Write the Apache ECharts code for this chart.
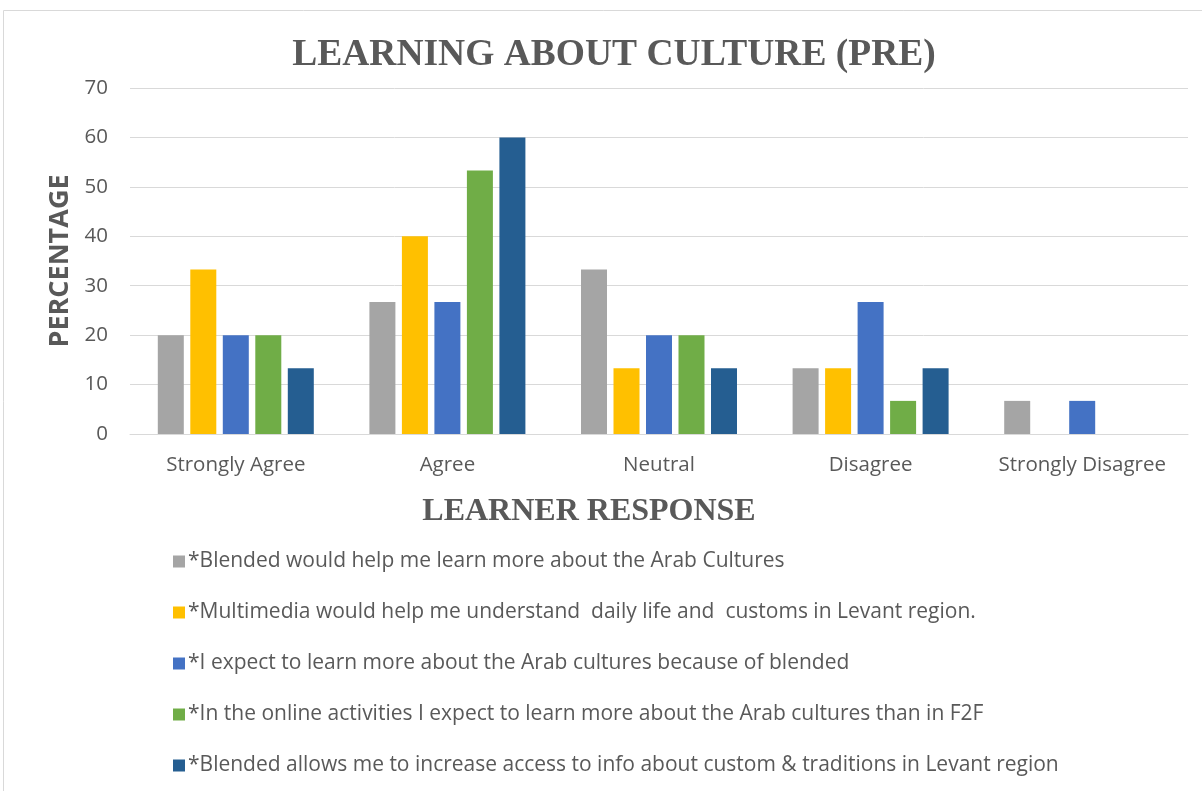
<!DOCTYPE html>
<html>
<head>
<meta charset="utf-8">
<script src="https://cdn.jsdelivr.net/npm/echarts@6/dist/echarts.min.js"></script>
<style>
  html, body { margin: 0; padding: 0; background: #fff; }
  #chart { width: 1202px; height: 791px; }
</style>
</head>
<body>
<div id="chart"></div>
<script>
  // categories and series
  const responses = ['Strongly Agree', 'Agree', 'Neutral', 'Disagree', 'Strongly Disagree']
  const yTicks = [0, 10, 20, 30, 40, 50, 60, 70]
  const blendedCultures = [20, 26.7, 33.3, 13.3, 6.7]
  const multimediaCustoms = [33.3, 40, 13.3, 13.3, 0]
  const expectBlended = [20, 26.7, 20, 26.7, 6.7]
  const onlineVsF2F = [20, 53.3, 20, 6.7, 0]
  const accessTraditions = [13.3, 60, 13.3, 13.3, 0]

  const seriesNames = [
    '*Blended would help me learn more about the Arab Cultures',
    '*Multimedia would help me understand  daily life and  customs in Levant region.',
    '*I expect to learn more about the Arab cultures because of blended',
    '*In the online activities I expect to learn more about the Arab cultures than in F2F',
    '*Blended allows me to increase access to info about custom & traditions in Levant region'
  ]
  const seriesData = [blendedCultures, multimediaCustoms, expectBlended, onlineVsF2F, accessTraditions]
  const colors = ['#A5A5A5', '#FFC000', '#4472C4', '#70AD47', '#255E91']

  const chart = echarts.init(document.getElementById('chart'))
  const option = {
    animation: false,
    color: colors,
    title: [
      {
        text: 'LEARNING ABOUT CULTURE (PRE)',
        left: 609, top: 31, textAlign: 'center',
        textStyle: { fontFamily: 'Liberation Serif', fontWeight: 'bold', fontSize: 37.5, color: '#595959' }
      },
      {
        text: 'LEARNER RESPONSE',
        left: 584, top: 491, textAlign: 'center',
        textStyle: { fontFamily: 'Liberation Serif', fontWeight: 'bold', fontSize: 32, color: '#595959' }
      }
    ],
    graphic: [
      {
        type: 'rect', silent: true,
        shape: { x: 3.5, y: 10.5, width: 1210, height: 800 },
        style: { fill: 'none', stroke: '#d9d9d9', lineWidth: 1 }
      }
    ],
    legend: {
      orient: 'vertical',
      left: 168, top: 546,
      itemWidth: 12, itemHeight: 12, itemGap: 30,
      icon: 'rect',
      data: seriesNames,
      textStyle: { fontFamily: 'Open Sans', fontSize: 21, color: '#595959', padding: [0, 0, 0, -2] }
    },
    grid: { left: 130, right: 14, top: 88, bottom: 357 },
    xAxis: {
      type: 'category',
      data: responses,
      axisLine: { lineStyle: { color: '#d9d9d9', width: 1 } },
      axisTick: { show: false },
      axisLabel: { interval: 0, fontFamily: 'Open Sans', fontSize: 20.5, color: '#595959', margin: 21 }
    },
    yAxis: {
      type: 'value',
      min: yTicks[0], max: yTicks[yTicks.length - 1], interval: 10,
      name: 'PERCENTAGE',
      nameLocation: 'middle',
      nameGap: 56,
      nameTextStyle: { fontFamily: 'Open Sans', fontWeight: 'bold', fontSize: 27, color: '#595959' },
      axisLine: { show: false },
      axisTick: { show: false },
      splitLine: { lineStyle: { color: '#d9d9d9', width: 1 } },
      axisLabel: { fontFamily: 'Open Sans', fontSize: 20.5, color: '#595959', margin: 22 }
    },
    series: seriesNames.map((name, i) => ({
      name: name,
      type: 'bar',
      data: seriesData[i],
      barWidth: 26,
      barGap: '25%'
    }))
  }
  chart.setOption(option)
  window.onresize = function () { chart.resize() }
</script>
</body>
</html>
